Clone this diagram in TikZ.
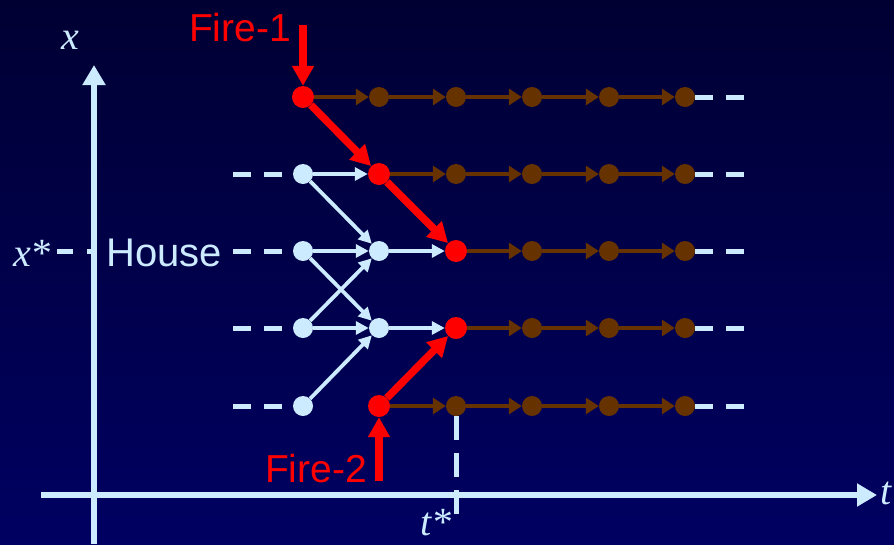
\documentclass[tikz,border=0pt]{standalone}
\usepackage{fontspec}
\setmainfont{Liberation Serif}
\newfontfamily\arial{Liberation Sans}
\usetikzlibrary{arrows.meta}
\definecolor{lb}{HTML}{CCEBFF}
\definecolor{br}{HTML}{663300}
\definecolor{bgtop}{HTML}{000033}
\definecolor{bgbot}{HTML}{000062}
\begin{document}
\begin{tikzpicture}[x=1pt,y=-1pt,
 dot/.style={circle,inner sep=0pt,minimum size=20pt},
 bdot/.style={dot,fill=br},
 ldot/.style={dot,fill=lb},
 rdot/.style={dot,fill=red,minimum size=22pt},
 barr/.style={draw=br,line width=4.5pt,-{Triangle[length=13pt,width=16pt]}},
 larr/.style={draw=lb,line width=3.8pt,-{Triangle[length=13pt,width=13pt]}},
 rarr/.style={draw=red,line width=7.5pt,-{Triangle[length=20pt,width=21pt]}},
 axisarr/.style={draw=lb,line width=6pt,-{Triangle[length=20pt,width=22pt]}},
 dsh/.style={draw=lb,line width=5pt,dash pattern=on 18pt off 13pt},
 lbl/.style={font=\arial\fontsize{39}{39}\selectfont,text=red,inner sep=0pt},
 mth/.style={font=\fontsize{40}{40}\selectfont\itshape,text=lb,inner sep=0pt}
]
\shade[top color=bgtop,bottom color=bgbot] (0,0) rectangle (894,544);
\useasboundingbox (0,0) rectangle (894,544);

% axes
\coordinate (yb) at (94,544);
\coordinate (yt) at (94,65);
\coordinate (xl) at (41,495);
\coordinate (xr) at (877,495);
\draw[axisarr] (xl) -- (xr);
\draw[axisarr] (yb) -- (yt);
\node[mth] (xlab) at (70,40) {x};
\node[mth,anchor=west] (tlab) at (880,493) {t};
\node[mth] (xstar) at (32,253) {x*};
\node[mth] (tstar) at (436,523) {t*};
\coordinate (xs1) at (57,251);
\coordinate (xs2) at (96,251);
\draw[draw=lb,line width=5pt,dash pattern=on 16pt off 14pt] (xs1) -- (xs2);
\node[font=\arial\fontsize{40}{40}\selectfont,text=lb,inner sep=0pt] (house) at (164,253) {House};

% nodes
\node[rdot] (n11) at (303,97) {};
\foreach \c/\x in {2/379,3/456,4/532,5/609,6/685} \node[bdot] (n\c1) at (\x,97) {};
\node[ldot] (n12) at (303,174) {};
\node[rdot] (n22) at (379,174) {};
\foreach \c/\x in {3/456,4/532,5/609,6/685} \node[bdot] (n\c2) at (\x,174) {};
\node[ldot] (n13) at (303,251) {};
\node[ldot] (n23) at (379,251) {};
\node[rdot] (n33) at (456,251) {};
\foreach \c/\x in {4/532,5/609,6/685} \node[bdot] (n\c3) at (\x,251) {};
\node[ldot] (n14) at (303,328) {};
\node[ldot] (n24) at (379,328) {};
\node[rdot] (n34) at (456,328) {};
\foreach \c/\x in {4/532,5/609,6/685} \node[bdot] (n\c4) at (\x,328) {};
\node[ldot] (n15) at (303,406) {};
\node[rdot] (n25) at (379,406) {};
\foreach \c/\x in {3/456,4/532,5/609,6/685} \node[bdot] (n\c5) at (\x,406) {};

% brown arrows
\foreach \a/\b in {1/2,2/3,3/4,4/5,5/6} \draw[barr] (n\a1) -- (n\b1);
\foreach \a/\b in {2/3,3/4,4/5,5/6} \draw[barr] (n\a2) -- (n\b2);
\foreach \a/\b in {3/4,4/5,5/6} \draw[barr] (n\a3) -- (n\b3);
\foreach \a/\b in {3/4,4/5,5/6} \draw[barr] (n\a4) -- (n\b4);
\foreach \a/\b in {2/3,3/4,4/5,5/6} \draw[barr] (n\a5) -- (n\b5);

% light blue arrows
\draw[larr] (n12) -- (n22);
\draw[larr] (n12) -- (n23);
\draw[larr] (n13) -- (n23);
\draw[larr] (n13) -- (n24);
\draw[larr] (n14) -- (n23);
\draw[larr] (n14) -- (n24);
\draw[larr] (n15) -- (n24);
\draw[larr] (n23) -- (n33);
\draw[larr] (n24) -- (n34);

% red arrows
\draw[rarr] (n11) -- (n22);
\draw[rarr] (n22) -- (n33);
\draw[rarr] (n25) -- (n34);
\coordinate (f1) at (303,25);
\coordinate (f2) at (379,481);
\draw[rarr] (f1) -- (n11);
\draw[rarr] (f2) -- (n25);
\node[lbl] (fire1) at (240,28) {Fire-1};
\node[lbl] (fire2) at (316,469) {Fire-2};

% dashes left and right
\foreach \r/\y in {2/174,3/251,4/328,5/406} {
  \coordinate (dl\r) at (233,\y);
  \draw[dsh] (dl\r) -- (n1\r.west);
}
\foreach \r in {1,2,3,4,5} {
  \coordinate (dr\r) at ([xshift=50pt]n6\r.east);
  \draw[dsh] (n6\r.east) -- (dr\r);
}
\coordinate (tsb) at (456,522);
\draw[draw=lb,line width=5pt,dash pattern=on 24pt off 13pt] (n35.south) -- (tsb);
\end{tikzpicture}
\end{document}
